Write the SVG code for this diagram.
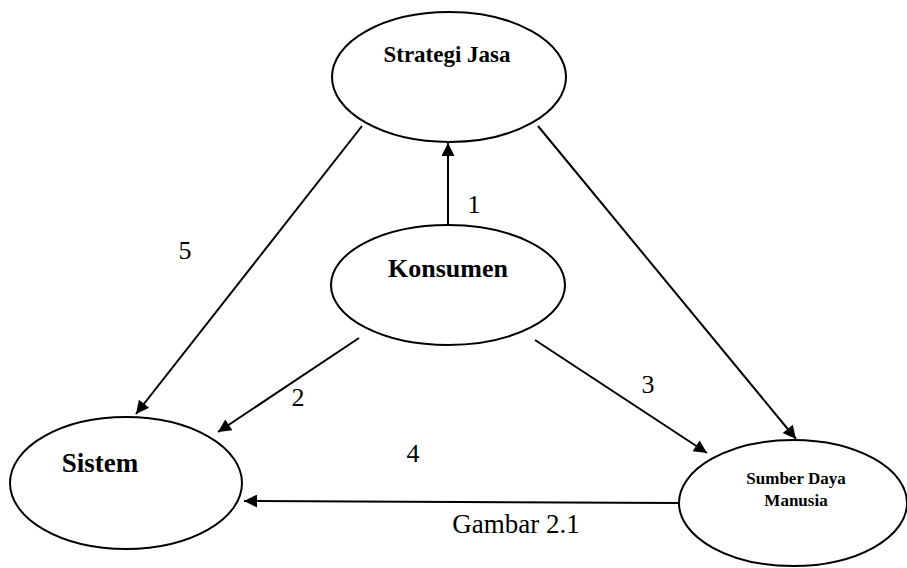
<svg xmlns="http://www.w3.org/2000/svg" width="907" height="568" viewBox="0 0 907 568">
<style>
.node{fill:#fff;stroke:#000;stroke-width:2}
.lbl{font-family:"Liberation Serif",serif;font-weight:bold;fill:#000;text-anchor:middle}
.num{font-family:"Liberation Serif",serif;font-size:26px;fill:#000;text-anchor:middle}
.edge{stroke:#000;stroke-width:2;fill:none;marker-end:url(#ah)}
</style>
<defs>
<marker id="ah" viewBox="0 0 10 10" refX="10" refY="5" markerWidth="8.5" markerHeight="6.5" markerUnits="strokeWidth" orient="auto">
<path d="M0,0 L10,5 L0,10 z" fill="#000"/>
</marker>
</defs>
<rect width="907" height="568" fill="#fff"/>
<g id="edges">
<line class="edge" x1="448" y1="225" x2="448" y2="143"/>
<line class="edge" x1="362" y1="126" x2="136" y2="414"/>
<line class="edge" x1="359" y1="338" x2="218" y2="432"/>
<line class="edge" x1="535" y1="340" x2="707" y2="453"/>
<line class="edge" x1="538" y1="126" x2="796" y2="439"/>
<line class="edge" x1="679" y1="503" x2="244" y2="501"/>
</g>
<g id="strategi-jasa">
<ellipse class="node" cx="449" cy="77" rx="117" ry="65"/>
<text class="lbl" x="447" y="62" font-size="23">Strategi Jasa</text>
</g>
<g id="konsumen">
<ellipse class="node" cx="448" cy="285" rx="117" ry="60"/>
<text class="lbl" x="448" y="277" font-size="26">Konsumen</text>
</g>
<g id="sistem">
<ellipse class="node" cx="126" cy="483" rx="116" ry="66"/>
<text class="lbl" x="100" y="472" font-size="27">Sistem</text>
</g>
<g id="sdm">
<ellipse class="node" cx="793" cy="503" rx="114" ry="63"/>
<text class="lbl" x="796" y="484" font-size="17">Sumber Daya</text>
<text class="lbl" x="796" y="506" font-size="17">Manusia</text>
</g>
<g id="labels">
<text class="num" x="474" y="213">1</text>
<text class="num" x="185" y="259">5</text>
<text class="num" x="298" y="406">2</text>
<text class="num" x="648" y="393">3</text>
<text class="num" x="413" y="462">4</text>
<text x="516" y="533" font-family="Liberation Serif,serif" font-size="27" text-anchor="middle" fill="#000">Gambar 2.1</text>
</g>
</svg>
